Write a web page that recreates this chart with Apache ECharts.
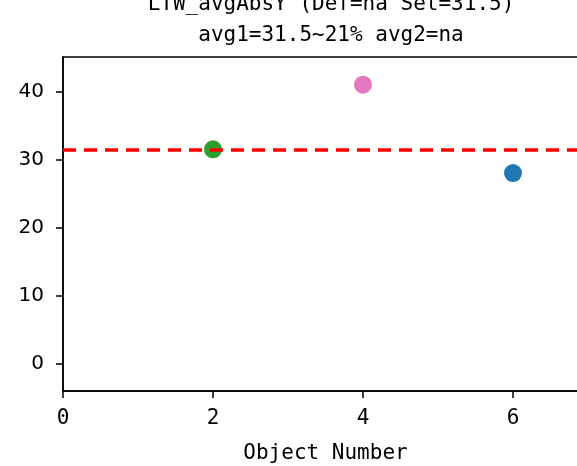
<!DOCTYPE html>
<html>
<head>
<meta charset="utf-8">
<script src="https://cdn.jsdelivr.net/npm/echarts@6/dist/echarts.min.js"></script>
<style>html,body{margin:0;padding:0;background:#fff}#c{width:577px;height:466px}</style>
</head>
<body>
<div id="c"></div>
<script>
var titleLines = ['LTW_avgAbsY (Def=na Set=31.5)', 'avg1=31.5~21% avg2=na'];
var xLabel = 'Object Number';
var objectNumbers = [2, 4, 6];
var avgAbsY = [31.5, 41, 28];
var pointColors = ['#2ca02c', '#e377c2', '#1f77b4'];
var setValue = 31.5;
var xTicks = [0, 2, 4, 6];
var yTicks = [0, 10, 20, 30, 40];

var mono = '"DejaVu Sans Mono", "Liberation Mono", monospace';
var chart = echarts.init(document.getElementById('c'), null, {renderer: 'canvas'});
var pts = objectNumbers.map(function (x, i) {
  return {value: [x, avgAbsY[i]], itemStyle: {color: pointColors[i], opacity: 1}};
});
chart.setOption({
  animation: false,
  backgroundColor: '#fff',
  title: {
    text: titleLines.join('\n'),
    left: 326,
    textAlign: 'center',
    top: -16,
    textStyle: {fontFamily: mono, fontSize: 21, fontWeight: 'normal', color: '#000', lineHeight: 31}
  },
  grid: {left: 63, top: 57, width: 525, height: 334, outerBoundsMode: 'none', containLabel: false,
         show: true, borderColor: '#000', borderWidth: 1.5, backgroundColor: 'transparent'},
  xAxis: {
    type: 'value', min: 0, max: 7,
    name: xLabel, nameLocation: 'middle', nameGap: 52,
    nameTextStyle: {fontFamily: mono, fontSize: 21, color: '#000'},
    axisLine: {show: true, onZero: false, lineStyle: {color: '#000', width: 1.5}},
    axisTick: {show: true, length: 7, lineStyle: {color: '#000', width: 1.5}, customValues: xTicks},
    axisLabel: {color: '#000', fontFamily: mono, fontSize: 21, margin: 17, customValues: xTicks},
    splitLine: {show: false}
  },
  yAxis: {
    type: 'value', min: -4.03, max: 45.07,
    axisLine: {show: true, onZero: false, lineStyle: {color: '#000', width: 1.5}},
    axisTick: {show: true, length: 7, lineStyle: {color: '#000', width: 1.5}, customValues: yTicks},
    axisLabel: {color: '#000', fontFamily: '"DejaVu Sans", sans-serif', fontSize: 20, margin: 19, customValues: yTicks},
    splitLine: {show: false}
  },
  series: [{
    type: 'scatter',
    symbolSize: 18,
    data: pts,
    z: 2,
    markLine: {
      silent: true,
      symbol: ['none', 'none'],
      label: {show: false},
      lineStyle: {color: '#ff0000', type: [13, 8], width: 3.5, opacity: 1},
      data: [{yAxis: setValue}]
    }
  }]
});
</script>
</body>
</html>
